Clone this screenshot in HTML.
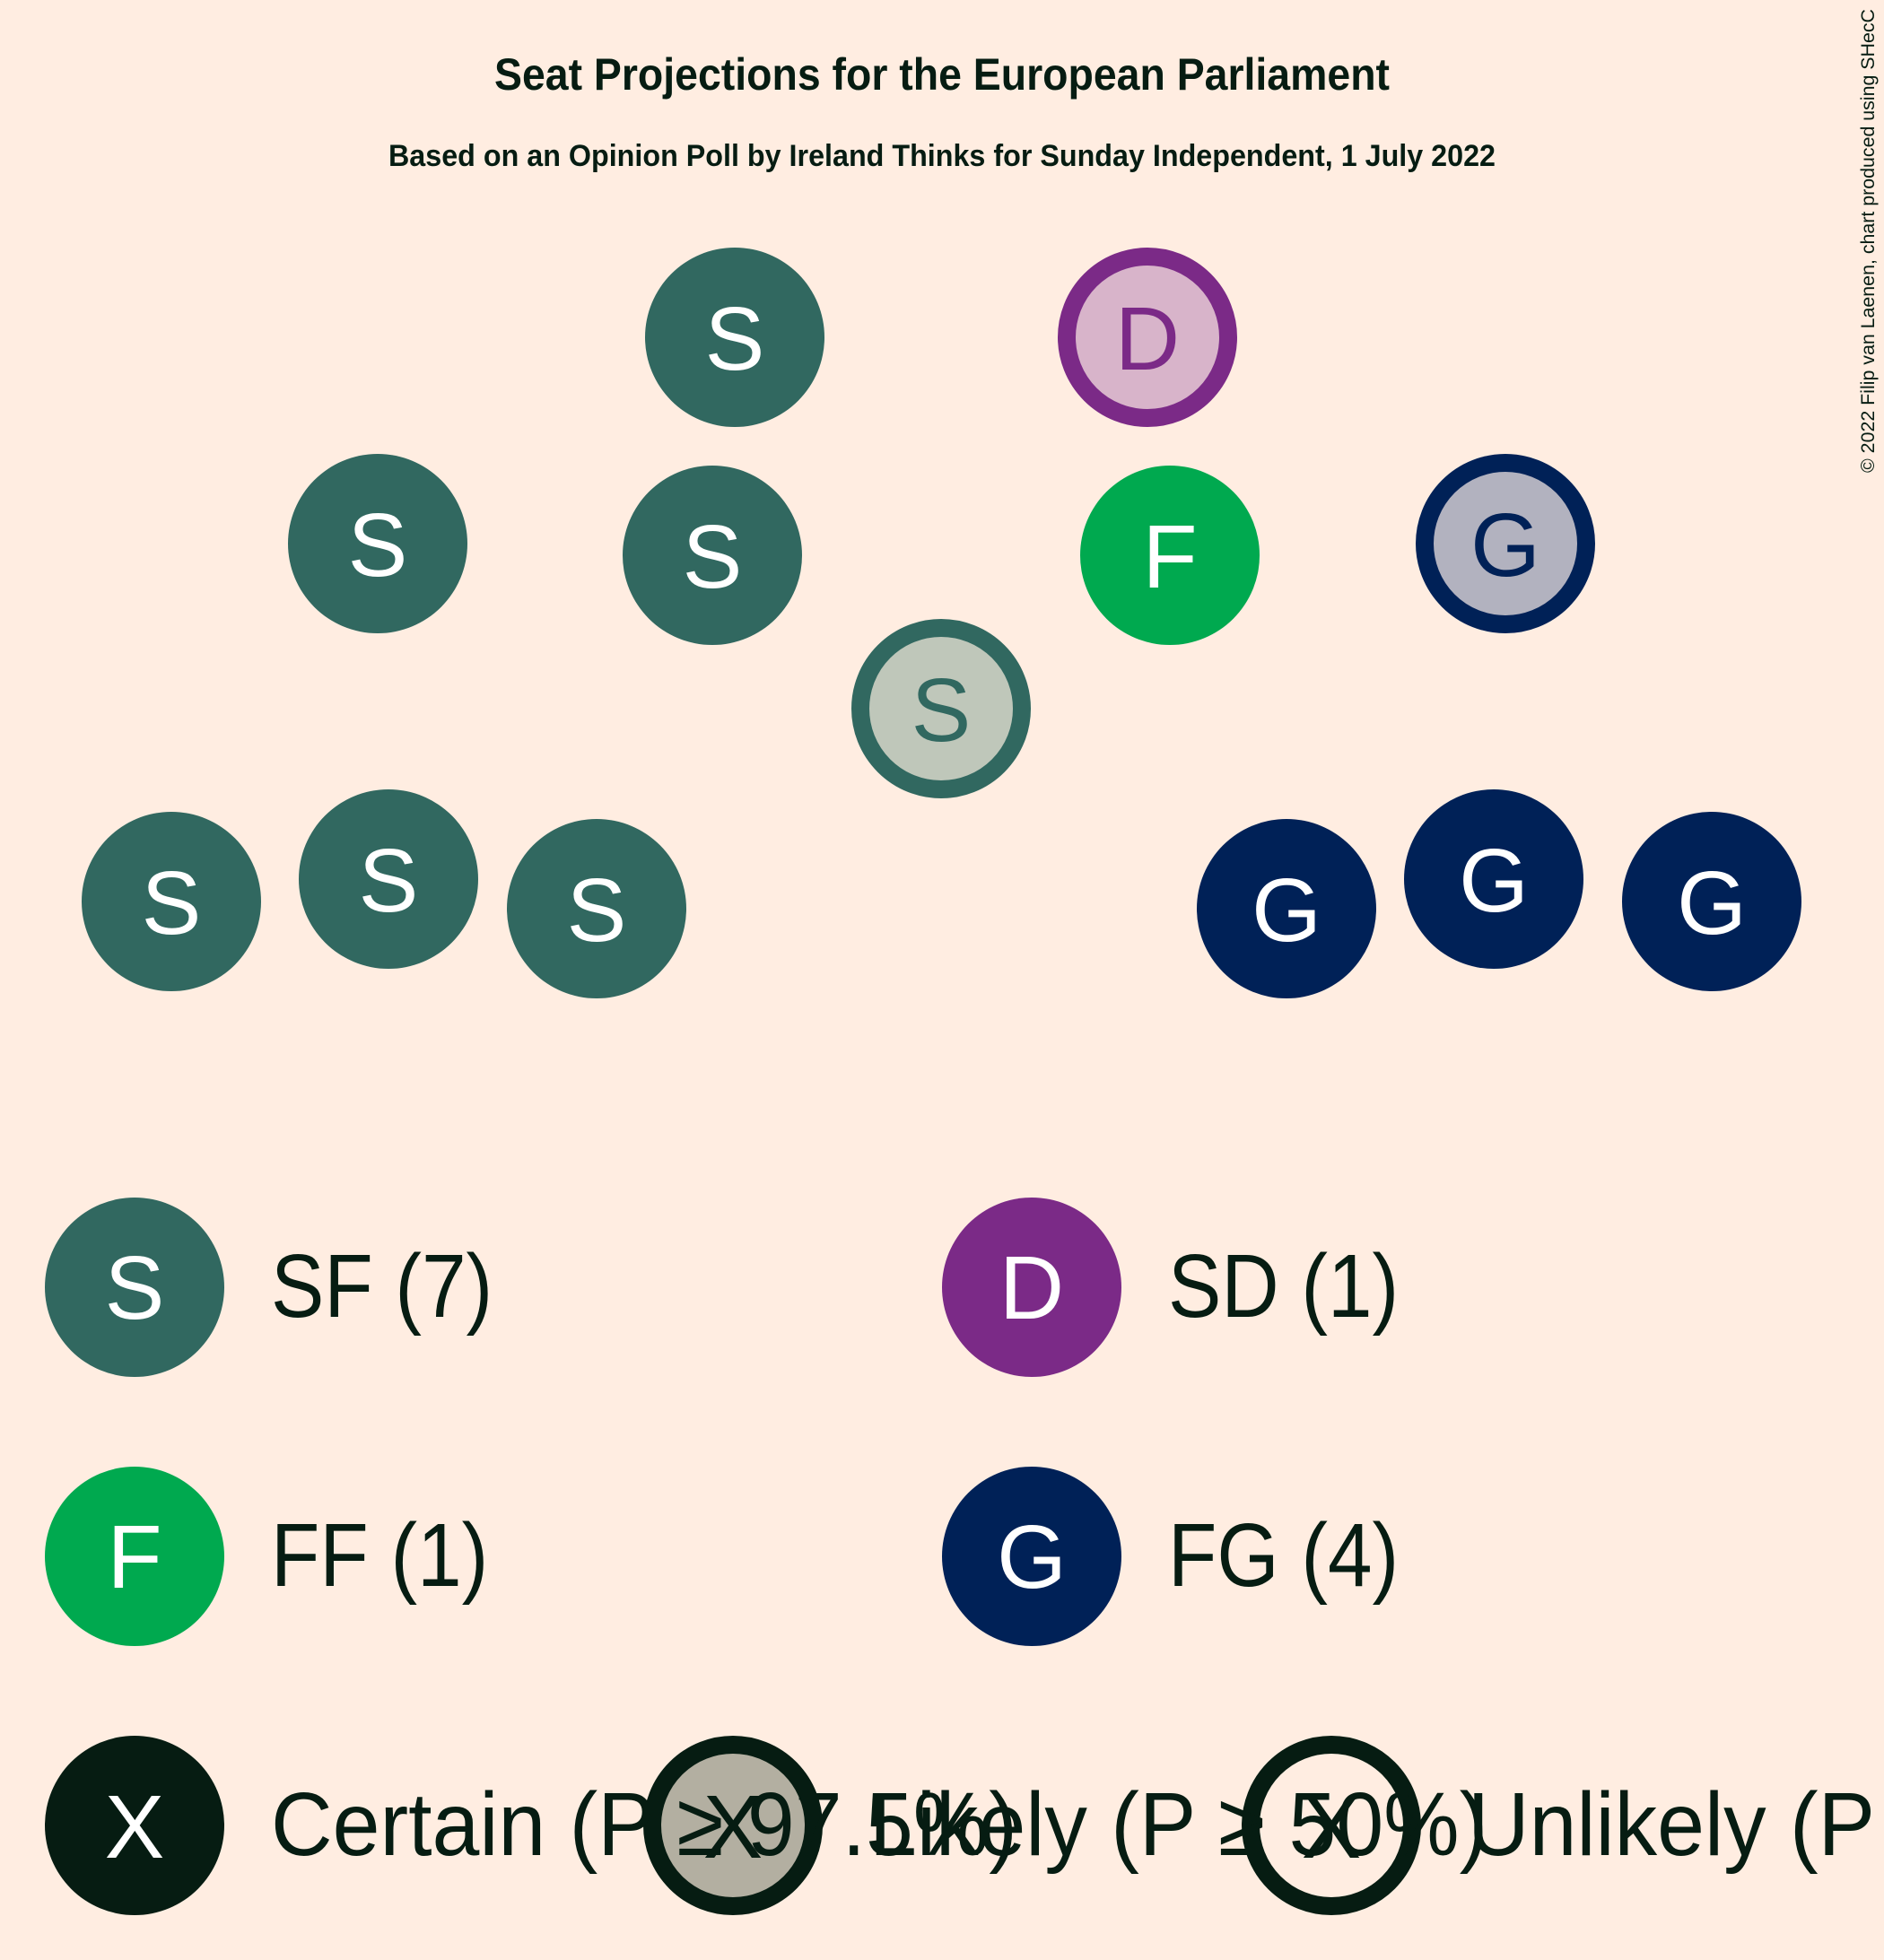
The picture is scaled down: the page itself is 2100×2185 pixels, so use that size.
<!DOCTYPE html>
<html><head><meta charset="utf-8"><style>
html,body{margin:0;padding:0;background:#FFEDE1;}
svg{display:block;font-family:"Liberation Sans",sans-serif;}
</style></head><body>
<svg width="2100" height="2185" viewBox="0 0 2100 2185">
<rect width="2100" height="2185" fill="#FFEDE1"/>
<text x="1050" y="100" text-anchor="middle" font-size="50" font-weight="bold" fill="#061C12" textLength="998" lengthAdjust="spacingAndGlyphs">Seat Projections for the European Parliament</text>
<text x="1050" y="185" text-anchor="middle" font-size="34" font-weight="bold" fill="#061C12" textLength="1234" lengthAdjust="spacingAndGlyphs">Based on an Opinion Poll by Ireland Thinks for Sunday Independent, 1 July 2022</text>
<text transform="translate(2089,527) rotate(-90)" font-size="21" fill="#061C12" textLength="517" lengthAdjust="spacingAndGlyphs">© 2022 Filip van Laenen, chart produced using SHecC</text>
<g id="seats"></g>
<g id="legend"></g>
</svg>
<script>
const parties = ['SF','SD','FF','FG'];
const partyLetters = ['S','D','F','G'];
const partyColors = ['#316860','#7B2A87','#00A94F','#002157'];
const partyLight = ['#BFC7BA','#D8B4CA','#9FD9B0','#B2B2BF'];
const partySeats = [7,1,1,4];
// seat list: party index, status (0 certain, 1 likely)
const seatParty = [0,1,0,0,2,3,0,0,0,0,3,3,3];
const seatStatus = [0,1,0,0,0,1,1,0,0,0,0,0,0];
// hemicycle layout positions
const seatX = [819,1279,421,794,1304,1678,1049,191,433,665,1434,1665,1908];
const seatY = [376,376,606,619,619,606,790,1005,980,1013,1013,980,1005];
const NS='http://www.w3.org/2000/svg';
function mk(tag,attrs,parent){const e=document.createElementNS(NS,tag);for(const k in attrs)e.setAttribute(k,attrs[k]);parent.appendChild(e);return e;}
function squeeze(t,f){const w=t.getComputedTextLength();t.setAttribute('textLength',(w*f).toFixed(1));t.setAttribute('lengthAdjust','spacingAndGlyphs');}
const seatsG=document.getElementById('seats');
for(let i=0;i<seatParty.length;i++){
  const p=seatParty[i],likely=seatStatus[i]===1;
  const g=mk('g',{},seatsG);
  
  
  if(likely){
    mk('circle',{cx:seatX[i],cy:seatY[i],r:90,fill:partyLight[p],stroke:partyColors[p],'stroke-width':20},g);
  } else {
    mk('circle',{cx:seatX[i],cy:seatY[i],r:100,fill:partyColors[p]},g);
  }
  const t=mk('text',{x:seatX[i],y:seatY[i]+36,'text-anchor':'middle','font-size':100,fill:likely?partyColors[p]:'#FFFFFF'},g);
  t.textContent=partyLetters[p];
}
const legendG=document.getElementById('legend');
const legX=[150,1150,150,1150], legY=[1435,1435,1735,1735];
for(let p=0;p<parties.length;p++){
  const g=mk('g',{},legendG);
  
  
  mk('circle',{cx:legX[p],cy:legY[p],r:100,fill:partyColors[p]},g);
  const l=mk('text',{x:legX[p],y:legY[p]+35,'text-anchor':'middle','font-size':100,fill:'#FFFFFF'},g);l.textContent=partyLetters[p];
  const t=mk('text',{x:legX[p]+152,y:legY[p]+33,'font-size':100,fill:'#061C12'},g);
  t.textContent=parties[p]+' ('+partySeats[p]+')';
  squeeze(t,0.89);
}
const statusLabels=['Certain (P ≥ 97.5%)','Likely (P ≥ 50%)','Unlikely (P < 50%)'];
const stX=[150,817,1484], stY=2035;
const stG=mk('g',{},legendG);


mk('circle',{cx:stX[0],cy:stY,r:100,fill:'#061C12'},stG);
mk('circle',{cx:stX[1],cy:stY,r:90,fill:'#B3AFA1',stroke:'#061C12','stroke-width':20},stG);
mk('circle',{cx:stX[2],cy:stY,r:90,fill:'none',stroke:'#061C12','stroke-width':20},stG);
for(let i=0;i<3;i++){
  const x=mk('text',{x:stX[i],y:stY+36,'text-anchor':'middle','font-size':100,fill:i===0?'#FFFFFF':'#061C12'},stG);x.textContent='X';
}
for(let i=0;i<3;i++){
  const t=mk('text',{x:stX[i]+152,y:stY+33,'font-size':100,fill:'#061C12'},stG);
  
  
  t.textContent=statusLabels[i];
  squeeze(t,0.95);
}
</script>
</body></html>
